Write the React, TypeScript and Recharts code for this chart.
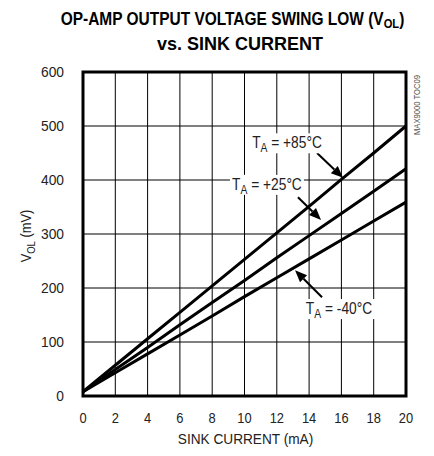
import React from 'react';
import { LineChart, Line, XAxis, YAxis, CartesianGrid, ReferenceArea, ReferenceLine, ReferenceDot } from 'recharts';

const current = [0, 2, 4, 6, 8, 10, 12, 14, 16, 18, 20];
const vol85 = [8, 57, 106, 155, 204, 253, 302, 351, 401, 450, 500];
const vol25 = [8, 49, 90, 132, 173, 214, 256, 297, 338, 379, 421];
const volM40 = [8, 43, 78, 113, 148, 184, 219, 254, 289, 324, 359];
const xTicks = [0, 2, 4, 6, 8, 10, 12, 14, 16, 18, 20];
const yTicks = [0, 100, 200, 300, 400, 500, 600];

const data = current.map((c, i) => ({ c, t85: vol85[i], t25: vol25[i], tm40: volM40[i] }));

const FONT = '"Liberation Sans", Arial, sans-serif';
const TXT = '#222';
const NARROW = 0.86;

const arrows = [
  { from: { x: 14.49, y: 450 }, to: { x: 16.1, y: 404 } },
  { from: { x: 13.31, y: 368 }, to: { x: 14.74, y: 326 } },
  { from: { x: 14.8, y: 183 }, to: { x: 13.13, y: 233 } },
];
const labels = [
  { x: 12.63, y: 468, text: ' = +85°C' },
  { x: 11.39, y: 391, text: ' = +25°C' },
  { x: 15.85, y: 161, text: ' = -40°C' },
];

const Arrow = (p: any) => {
  const { x1, y1, x2, y2 } = p;
  const dx = x2 - x1, dy = y2 - y1;
  const len = Math.sqrt(dx * dx + dy * dy) || 1;
  const ux = dx / len, uy = dy / len;
  const hl = 12, hw = 5;
  const bx = x2 - ux * hl, by = y2 - uy * hl;
  const pts = `${x2},${y2} ${bx - uy * hw},${by + ux * hw} ${bx + uy * hw},${by - ux * hw}`;
  return (
    <g>
      <line x1={x1} y1={y1} x2={bx} y2={by} stroke="#000" strokeWidth={2} />
      <polygon points={pts} fill="#000" />
    </g>
  );
};

const makeLabel = (text: string) => (p: any) => {
  const { cx, cy } = p;
  return (
    <g>
      <rect x={cx - 37} y={cy - 10} width={74} height={20} fill="#fff" />
      <text transform={`translate(${cx},${cy + 5}) scale(${NARROW},1)`} x={0} y={0} textAnchor="middle" fontFamily={FONT} fontSize={16} fill={TXT}>
        T<tspan fontSize={12} dy={4}>A</tspan><tspan dy={-4}>{text}</tspan>
      </text>
    </g>
  );
};

const XTick = (p: any) => (
  <text transform={`translate(${p.x},${p.y}) scale(${NARROW},1)`} x={0} y={0} dy="0.71em" textAnchor="middle" fontFamily={FONT} fontSize={15} fill={TXT}>
    {p.payload.value}
  </text>
);

const YTick = (p: any) => (
  <text transform={`translate(${p.x},${p.y}) scale(0.92,1)`} x={0} y={0} dy="0.355em" textAnchor="end" fontFamily={FONT} fontSize={15} fill={TXT}>
    {p.payload.value}
  </text>
);

const XLabel = (p: any) => {
  const vb = p.viewBox;
  return (
    <text transform={`translate(${vb.x + vb.width / 2 + 1},${vb.y + 48}) scale(0.91,1)`} x={0} y={0} textAnchor="middle" fontFamily={FONT} fontSize={15} fill={TXT}>
      SINK CURRENT (mA)
    </text>
  );
};

const YLabel = (p: any) => {
  const vb = p.viewBox;
  const cx = 31;
  const cy = vb.y + vb.height / 2 + 2;
  return (
    <text transform={`translate(${cx},${cy}) rotate(-90) scale(${NARROW},1)`} x={0} y={0} textAnchor="middle" fontFamily={FONT} fontSize={15} fill={TXT}>
      V<tspan fontSize={11} dy={4}>OL</tspan><tspan dy={-4}> (mV)</tspan>
    </text>
  );
};

export default function App() {
  return (
    <div style={{ position: 'absolute', left: 0, top: 0, width: 434, height: 456, background: '#fff' }}>
      <LineChart width={434} height={456} data={data} margin={{ top: 72, right: 28, bottom: 0, left: 0 }}>
        <CartesianGrid stroke="#000" strokeWidth={1} />
        <XAxis
          dataKey="c"
          type="number"
          domain={[0, 20]}
          ticks={xTicks}
          height={60}
          axisLine={false}
          tickLine={false}
          tickSize={0}
          tickMargin={16}
          tick={<XTick />}
          label={<XLabel />}
        />
        <YAxis
          type="number"
          domain={[0, 600]}
          ticks={yTicks}
          width={83}
          axisLine={false}
          tickLine={false}
          tickSize={0}
          tickMargin={19}
          tick={<YTick />}
          label={<YLabel />}
        />
        <ReferenceArea x1={0} x2={20} y1={0} y2={600} fill="none" fillOpacity={0} stroke="#000" strokeWidth={3} />
        <Line dataKey="t85" stroke="#000" strokeWidth={3} dot={false} isAnimationActive={false} />
        <Line dataKey="t25" stroke="#000" strokeWidth={3} dot={false} isAnimationActive={false} />
        <Line dataKey="tm40" stroke="#000" strokeWidth={3} dot={false} isAnimationActive={false} />
        {arrows.map((a, i) => (
          <ReferenceLine key={'a' + i} segment={[a.from, a.to]} shape={Arrow} ifOverflow="visible" />
        ))}
        {labels.map((l, i) => (
          <ReferenceDot key={'l' + i} x={l.x} y={l.y} r={1} shape={makeLabel(l.text)} ifOverflow="visible" />
        ))}
      </LineChart>
      <svg width={434} height={456} style={{ position: 'absolute', left: 0, top: 0, pointerEvents: 'none' }}>
        <text transform="translate(232.5,25) scale(0.86,1)" x={0} y={0} textAnchor="middle" fontFamily={FONT} fontWeight="bold" fontSize={18} fill="#000">
          OP-AMP OUTPUT VOLTAGE SWING LOW (V<tspan fontSize={13} dy={3}>OL</tspan><tspan dy={-3}>)</tspan>
        </text>
        <text x={240} y={50} textAnchor="middle" fontFamily={FONT} fontWeight="bold" fontSize={18} fill="#000">
          vs. SINK CURRENT
        </text>
        <text transform="translate(420,105) rotate(-90) scale(0.85,1)" x={0} y={0} textAnchor="middle" fontFamily={FONT} fontSize={9} fill="#555">
          MAX9000 TOC09
        </text>
      </svg>
    </div>
  );
}
